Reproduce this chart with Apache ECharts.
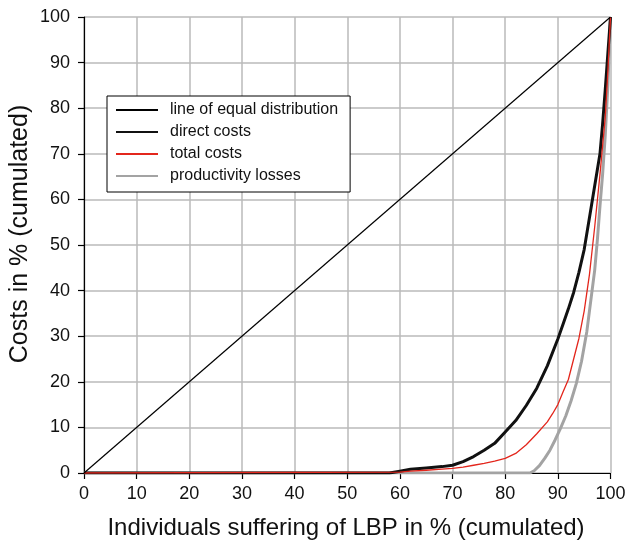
<!DOCTYPE html>
<html>
<head>
<meta charset="utf-8">
<script src="https://cdn.jsdelivr.net/npm/echarts@6/dist/echarts.min.js"></script>
<style>html,body{margin:0;padding:0;background:#fff}#c{width:630px;height:542px}</style>
</head>
<body>
<div id="c"></div>
<script>
var xTicks = [0, 10, 20, 30, 40, 50, 60, 70, 80, 90, 100];
var yTicks = [0, 10, 20, 30, 40, 50, 60, 70, 80, 90, 100];

var seriesNames = ['line of equal distribution', 'direct costs', 'total costs', 'productivity losses'];

var equalX = [0, 100];
var equalY = [0, 100];

var directX = [0, 58, 60, 62, 65, 68, 70, 72, 74, 76, 78, 80, 82, 84, 86, 88, 90, 91, 92, 93, 94, 95, 96, 97, 98, 98.5, 99, 99.5, 100];
var directY = [0, 0, 0.4, 0.8, 1.1, 1.4, 1.7, 2.5, 3.6, 5.0, 6.5, 9.0, 11.5, 14.8, 18.6, 23.5, 29.4, 32.7, 36, 39.6, 44, 49, 56, 63, 70, 76.5, 84, 92, 100];

var totalX = [0, 60, 62, 65, 68, 70, 72, 74, 76, 78, 80, 82, 84, 86, 88, 89, 90, 91, 92, 93, 94, 95, 96, 97, 98, 99, 99.5, 100];
var totalY = [0, 0.2, 0.4, 0.6, 0.85, 1.0, 1.3, 1.7, 2.1, 2.6, 3.2, 4.3, 6.2, 8.6, 11.2, 13, 15, 17.8, 20.5, 25, 29.5, 35.5, 43.5, 54, 65.5, 78, 88, 100];

var prodX = [0, 84.7, 85.5, 86.5, 87.5, 88.5, 89.5, 90.5, 91.5, 92.5, 93.5, 94.5, 95.5, 96.5, 97, 97.5, 98, 98.5, 99, 99.5, 100];
var prodY = [0, 0, 0.5, 1.6, 3.2, 5.0, 7.3, 9.8, 12.5, 15.8, 19.6, 24.5, 31, 40, 44.5, 51, 58.5, 65.5, 74, 85, 100];

function pairs(xs, ys) { return xs.map(function (x, i) { return [x, ys[i]]; }); }

var FONT = '"Liberation Sans", Arial, Helvetica, sans-serif';
var chart = echarts.init(document.getElementById('c'), null, { renderer: 'canvas' });
chart.setOption({
  animation: false,
  backgroundColor: '#fff',
  grid: { left: 84, right: 19.5, top: 17, bottom: 69 },
  xAxis: {
    type: 'value', min: xTicks[0], max: xTicks[xTicks.length - 1], interval: 10,
    axisLine: { show: true, onZero: false, lineStyle: { color: '#000', width: 1.2 } },
    axisTick: { show: true, inside: false, length: 6, lineStyle: { color: '#000', width: 1.2 } },
    axisLabel: { color: '#111', fontFamily: FONT, fontSize: 18, margin: 12 },
    splitLine: { show: true, lineStyle: { color: '#bababa', width: 1.5 } }
  },
  yAxis: {
    type: 'value', min: yTicks[0], max: yTicks[yTicks.length - 1], interval: 10,
    axisLine: { show: true, onZero: false, lineStyle: { color: '#000', width: 1.2 } },
    axisTick: { show: true, inside: false, length: 6, lineStyle: { color: '#000', width: 1.2 } },
    axisLabel: { color: '#111', fontFamily: FONT, fontSize: 18, margin: 14 },
    splitLine: { show: true, lineStyle: { color: '#bababa', width: 1.5 } }
  },
  legend: {
    orient: 'vertical', left: 107, top: 96,
    data: seriesNames,
    itemWidth: 42, itemHeight: 14, itemGap: 6,
    padding: [6, 12, 8, 8],
    borderColor: '#000', borderWidth: 1, backgroundColor: '#fff',
    itemStyle: { opacity: 0 },
    textStyle: { color: '#111', fontFamily: FONT, fontSize: 16, lineHeight: 16, padding: [0, 0, 0, 7] }
  },
  graphic: [
    { type: 'text', x: 20, y: 234, rotation: Math.PI / 2,
      style: { text: 'Costs in % (cumulated)', fontFamily: FONT, fontSize: 25, fill: '#111', align: 'center', verticalAlign: 'middle' } },
    { type: 'text', x: 346, y: 528,
      style: { text: 'Individuals suffering of LBP in % (cumulated)', fontFamily: FONT, fontSize: 24, fill: '#111', align: 'center', verticalAlign: 'middle' } }
  ],
  series: [
    { name: seriesNames[0], type: 'line', data: pairs(equalX, equalY), symbol: 'none', z: 5,
      lineStyle: { color: '#000', width: 1.2 }, itemStyle: { color: '#000' } },
    { name: seriesNames[1], type: 'line', data: pairs(directX, directY), symbol: 'none', z: 3,
      lineStyle: { color: '#111', width: 3, join: 'round' }, itemStyle: { color: '#111' } },
    { name: seriesNames[2], type: 'line', data: pairs(totalX, totalY), symbol: 'none', z: 4,
      lineStyle: { color: '#e3261c', width: 1.3, join: 'round' }, itemStyle: { color: '#e3261c' } },
    { name: seriesNames[3], type: 'line', data: pairs(prodX, prodY), symbol: 'none', z: 2,
      lineStyle: { color: '#a3a3a3', width: 3, join: 'round' }, itemStyle: { color: '#a3a3a3' } }
  ]
});
</script>
</body>
</html>
